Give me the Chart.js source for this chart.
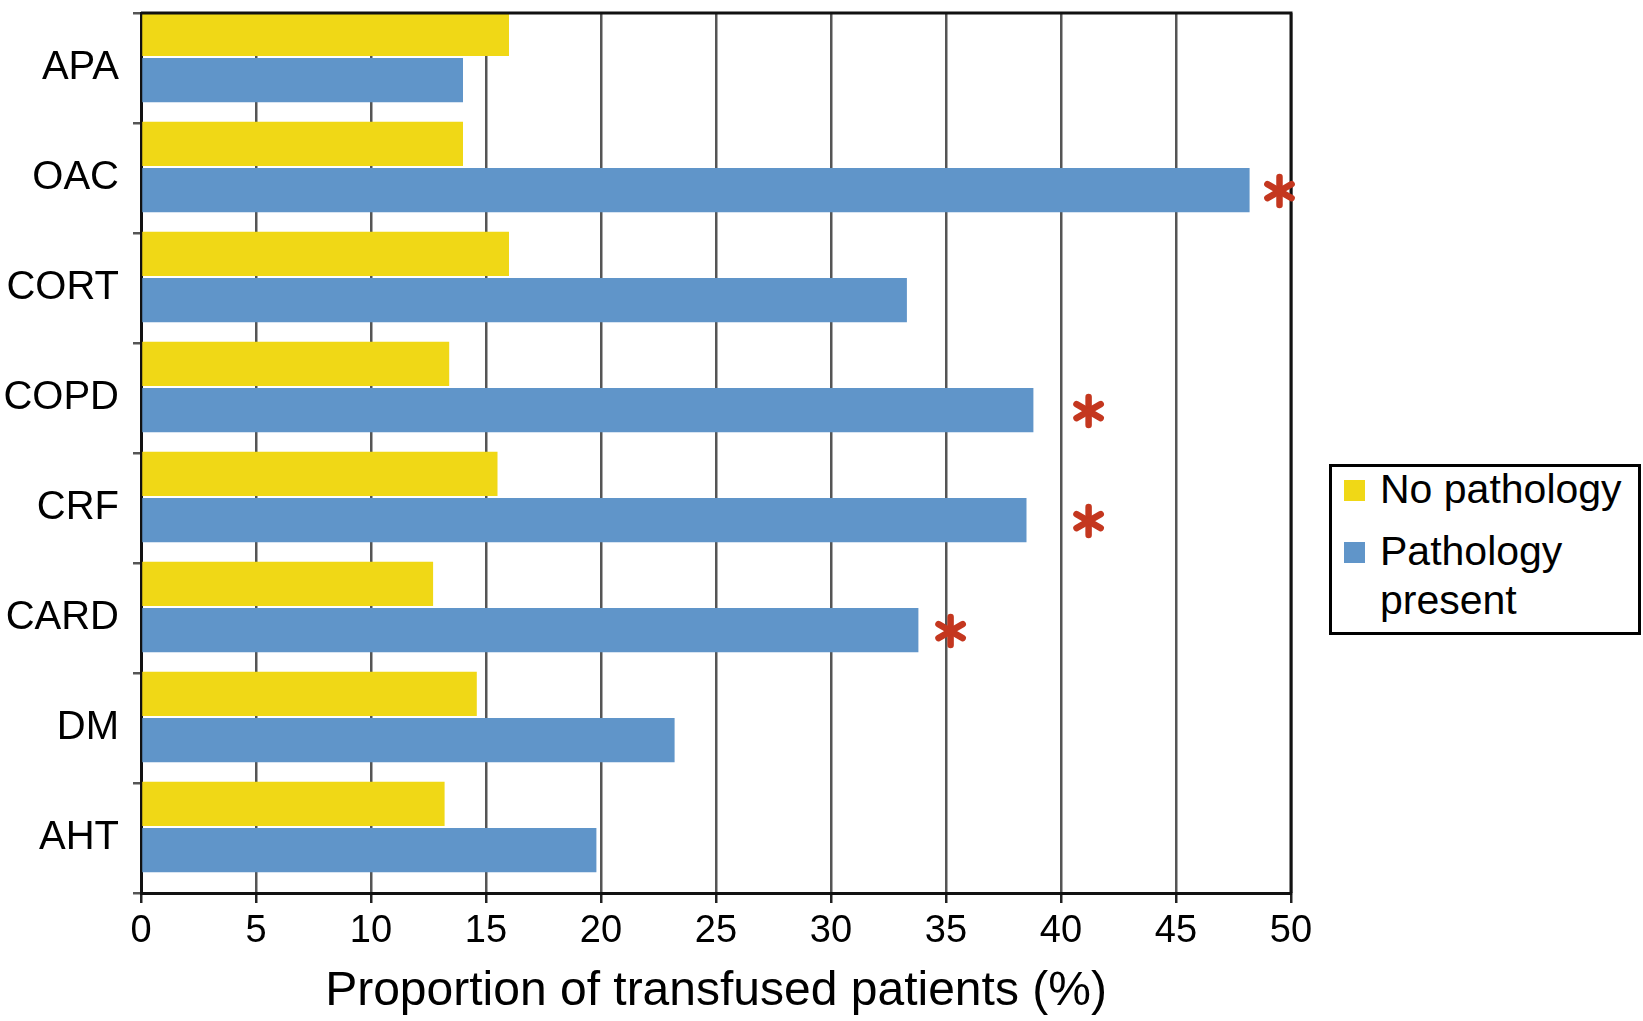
<!DOCTYPE html>
<html>
<head>
<meta charset="utf-8">
<script src="https://cdn.jsdelivr.net/npm/chart.js@4.4.0/dist/chart.umd.min.js"></script>
<style>
  html, body { margin: 0; padding: 0; background: #fff; }
  #wrap { position: relative; width: 1643px; height: 1021px; }
  #legend {
    position: absolute; left: 1329px; top: 464px; width: 306px; height: 165px;
    border: 3px solid #000; background: #fff;
    font-family: "Liberation Sans", Arial, sans-serif; font-size: 41px; color: #000;
  }
  .item { position: absolute; left: 12px; }
  .sw { position: absolute; left: 0; width: 21px; height: 21px; }
  .txt { position: absolute; left: 36px; white-space: nowrap; line-height: 49px; }
</style>
</head>
<body>
<div id="wrap">
  <canvas id="chart" width="1643" height="1021"></canvas>
  <div id="legend"></div>
</div>
<script>
"use strict";

const CATEGORIES = ["APA", "OAC", "CORT", "COPD", "CRF", "CARD", "DM", "AHT"];
const NO_PATHOLOGY = [16.0, 14.0, 16.0, 13.4, 15.5, 12.7, 14.6, 13.2];
const PATHOLOGY_PRESENT = [14.0, 48.2, 33.3, 38.8, 38.5, 33.8, 23.2, 19.8];
const X_TICKS = [0, 5, 10, 15, 20, 25, 30, 35, 40, 45, 50];
const SIG_CATEGORIES = ["OAC", "COPD", "CRF", "CARD"];
const SIG_AT = [49.5, 41.2, 41.2, 35.2];

const YELLOW = "#f0d816";
const BLUE = "#6095c9";
const FONT = "'Liberation Sans', Arial, sans-serif";

function toPoints(values) {
  return values.map(function(v, i) { return {x: v, y: i}; });
}

const borderAndStars = {
  id: "borderAndStars",
  afterDatasetsDraw: function(chart) {
    const ctx = chart.ctx;
    const a = chart.chartArea;
    ctx.save();
    ctx.strokeStyle = "#111";
    ctx.lineWidth = 3;
    ctx.beginPath();
    ctx.moveTo(a.left, a.top);
    ctx.lineTo(a.right, a.top);
    ctx.lineTo(a.right, a.bottom);
    ctx.stroke();

    // significance asterisks next to the "pathology present" bars
    const meta = chart.getDatasetMeta(1);
    ctx.strokeStyle = "#c4371f";
    ctx.lineWidth = 6.5;
    ctx.lineCap = "round";
    for (let k = 0; k < SIG_CATEGORIES.length; k++) {
      const i = CATEGORIES.indexOf(SIG_CATEGORIES[k]);
      const bar = meta.data[i];
      const cx = chart.scales.x.getPixelForValue(SIG_AT[k]);
      const cy = bar.y + 1;
      const r = 14;
      for (const ang of [90, 30, 150]) {
        const rad = ang * Math.PI / 180;
        ctx.beginPath();
        ctx.moveTo(cx - r * Math.cos(rad), cy - r * Math.sin(rad));
        ctx.lineTo(cx + r * Math.cos(rad), cy + r * Math.sin(rad));
        ctx.stroke();
      }
    }
    ctx.restore();
  }
};

const ctx = document.getElementById("chart").getContext("2d");
new Chart(ctx, {
  type: "bar",
  data: {
    datasets: [
      {label: "No pathology", data: toPoints(NO_PATHOLOGY), backgroundColor: YELLOW, yAxisID: "yb"},
      {label: "Pathology present", data: toPoints(PATHOLOGY_PRESENT), backgroundColor: BLUE, yAxisID: "yb"}
    ]
  },
  options: {
    indexAxis: "y",
    responsive: false,
    devicePixelRatio: 1,
    animation: false,
    categoryPercentage: 0.84,
    barPercentage: 0.96,
    layout: {padding: {top: 13, right: 352, left: 0, bottom: 0}},
    plugins: {legend: {display: false}, tooltip: {enabled: false}},
    scales: {
      x: {
        type: "linear",
        min: 0, max: 50,
        afterBuildTicks: function(scale) {
          scale.ticks = X_TICKS.map(function(v) { return {value: v}; });
        },
        afterFit: function(scale) {
          scale.height = 128;
          scale.paddingLeft = 0;
          scale.paddingRight = 0;
        },
        grid: {color: "#555", lineWidth: 2.5, tickLength: 10, tickColor: "#222"},
        border: {color: "#111", width: 3},
        ticks: {color: "#000", font: {family: FONT, size: 38}, padding: 6, maxRotation: 0},
        title: {
          display: true,
          text: "Proportion of transfused patients (%)",
          color: "#000",
          font: {family: FONT, size: 48},
          padding: {top: 0, bottom: 0}
        }
      },
      y: {
        type: "category",
        labels: CATEGORIES,
        offset: true,
        afterFit: function(scale) {
          scale.width = 141;
          scale.paddingTop = 0;
          scale.paddingBottom = 0;
        },
        grid: {drawOnChartArea: false, offset: true, tickLength: 8, color: "#555", lineWidth: 2.5},
        border: {color: "#111", width: 3},
        ticks: {color: "#000", font: {family: FONT, size: 40}, padding: 14}
      },
      // bars sit in the upper part of each band, so they use their own hidden index axis
      yb: {
        type: "linear",
        position: "left",
        offset: false,
        reverse: true,
        min: -0.4,
        max: CATEGORIES.length - 0.4,
        grid: {display: false},
        border: {display: false},
        ticks: {display: false},
        afterBuildTicks: function(scale) {
          scale.ticks = CATEGORIES.map(function(c, i) { return {value: i}; });
        },
        afterFit: function(scale) {
          scale.width = 0;
          scale.paddingTop = 0;
          scale.paddingBottom = 0;
        }
      }
    }
  },
  plugins: [borderAndStars]
});

// legend box
const legend = document.getElementById("legend");
const items = [
  {color: YELLOW, lines: ["No pathology"], top: 0},
  {color: BLUE, lines: ["Pathology", "present"], top: 62}
];
for (const it of items) {
  const d = document.createElement("div");
  d.className = "item";
  d.style.top = (it.top - 2) + "px";
  const sw = document.createElement("div");
  sw.className = "sw";
  sw.style.background = it.color;
  sw.style.top = "15px";
  const t = document.createElement("div");
  t.className = "txt";
  t.innerHTML = it.lines.join("<br>");
  d.append(sw);
  d.append(t);
  legend.append(d);
}
</script>
</body>
</html>
